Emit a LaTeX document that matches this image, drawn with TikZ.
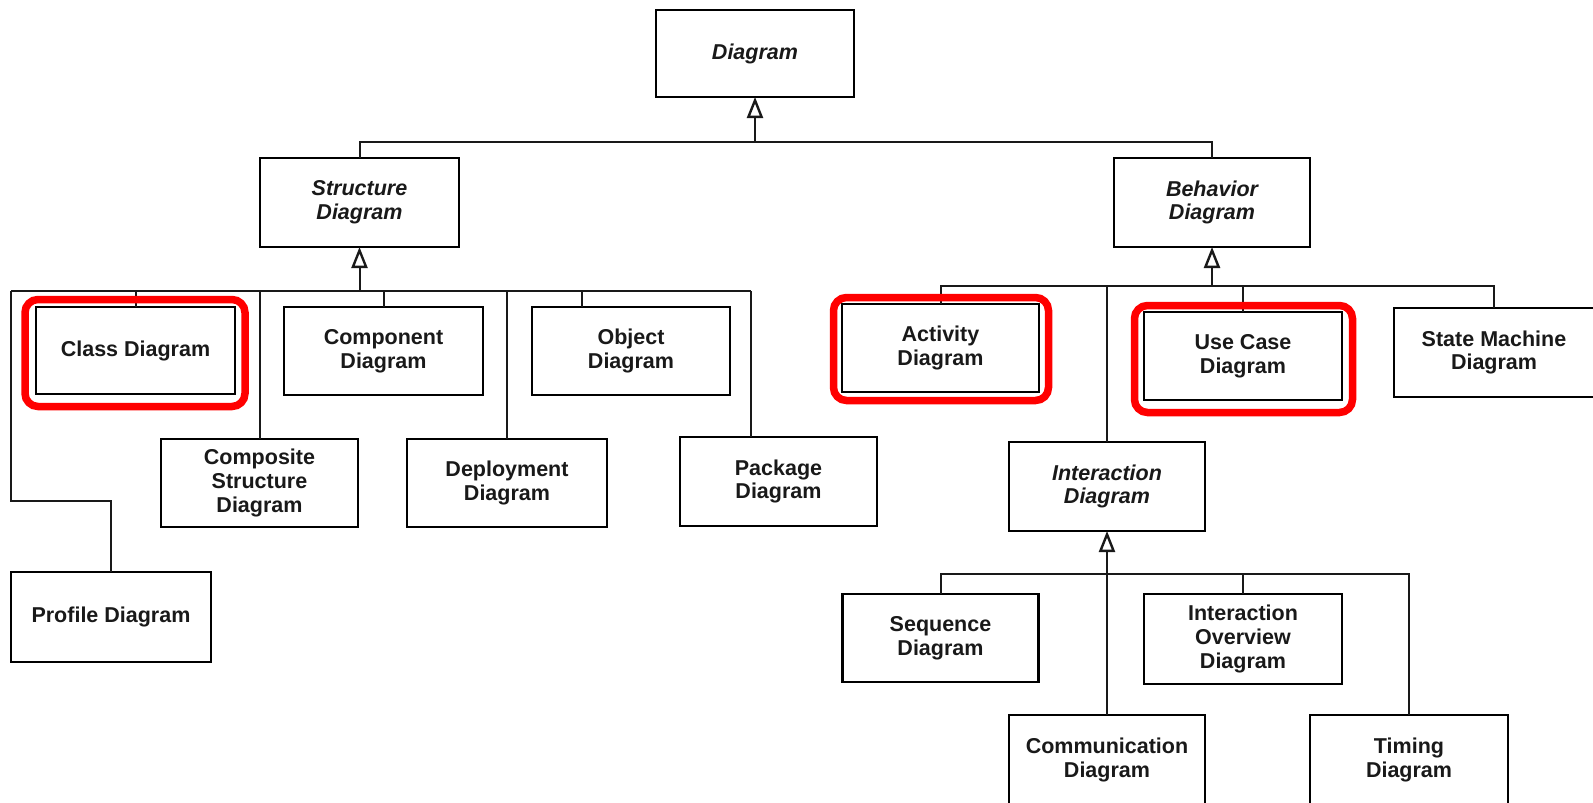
\documentclass[tikz,border=0pt]{standalone}
\usepackage{fontspec}
\setmainfont{Liberation Sans}
\usetikzlibrary{arrows.meta}
\begin{document}
\begin{tikzpicture}[x=1pt,y=-1pt,
  box/.style={draw=black, line width=2.2pt, rectangle, inner sep=0pt, outer sep=0pt, align=center,
    font=\bfseries\fontsize{21.5}{23.7}\selectfont, text=black!90},
  abs/.style={box, font=\bfseries\itshape\fontsize{21.5}{23.7}\selectfont},
  conn/.style={line width=2pt, draw=black!90},
  gen/.style={conn, -{Triangle[open, width=16pt, length=21pt, line width=2.4pt]}},
  hilite/.style={draw=red, line width=7.5pt, rounded corners=13pt}
]
\useasboundingbox (0,0) rectangle (1593,803);
\clip (0,0) rectangle (1593,803);

% nodes
\node[abs, minimum width=198pt, minimum height=87pt] (diag) at (755,53.5) {Diagram};
\node[abs, minimum width=199pt, minimum height=89pt] (struct) at (359.5,202.5) {Structure\\Diagram};
\node[abs, minimum width=196pt, minimum height=89pt] (behav) at (1212,202.5) {Behavior\\Diagram};

\node[box, minimum width=199pt, minimum height=87pt] (class) at (135.5,350.5) {Class Diagram};
\node[box, minimum width=199pt, minimum height=88pt] (comp) at (383.5,351) {Component\\Diagram};
\node[box, minimum width=198pt, minimum height=88pt] (object) at (631,351) {Object\\Diagram};
\node[box, minimum width=197pt, minimum height=88pt] (composite) at (259.5,483) {Composite\\Structure\\Diagram};
\node[box, minimum width=200pt, minimum height=88pt] (deploy) at (507,483) {Deployment\\Diagram};
\node[box, minimum width=197pt, minimum height=89pt] (package) at (778.5,481.5) {Package\\Diagram};
\node[box, minimum width=200pt, minimum height=90pt] (profile) at (111,617) {Profile Diagram};

\node[box, minimum width=197pt, minimum height=88pt] (activity) at (940.5,348) {Activity\\Diagram};
\node[box, minimum width=198pt, minimum height=88pt] (usecase) at (1243,356) {Use Case\\Diagram};
\node[box, minimum width=200pt, minimum height=89pt] (state) at (1494,352.5) {State Machine\\Diagram};
\node[abs, minimum width=196pt, minimum height=89pt] (inter) at (1107,486.5) {Interaction\\Diagram};

\node[box, minimum width=196pt, minimum height=88pt] (sequence) at (940.5,638) {Sequence\\Diagram};
\node[box, minimum width=198pt, minimum height=90pt] (overview) at (1243,639) {Interaction\\Overview\\Diagram};
\node[box, minimum width=196pt, minimum height=90pt] (comm) at (1107,760) {Communication\\Diagram};
\node[box, minimum width=198pt, minimum height=90pt] (timing) at (1409,760) {Timing\\Diagram};

% top level
\coordinate (j0) at (755,142);
\draw[conn] (struct.north) |- (j0) -| (behav.north);
\draw[gen] (j0) -- (diag.south);

% structure group
\coordinate (j1) at (359.5,290.7);
\coordinate (h1l) at (11,290.7);
\coordinate (h1r) at (751,290.7);
\coordinate (pb) at (11,501);
\draw[conn] (h1l) -- (h1r);
\draw[gen] (j1) -- (struct.south);
\draw[conn] (class.north) -- (class.north |- j1);
\draw[conn] (composite.north) -- (composite.north |- j1);
\draw[conn] (comp.north) -- (comp.north |- j1);
\draw[conn] (deploy.north) -- (deploy.north |- j1);
\draw[conn] ([xshift=-49pt]object.north) -- ([xshift=-49pt]object.north |- j1);
\draw[conn] ([xshift=-27.5pt]package.north) -- (h1r);
\draw[conn] (h1l) -- (pb) -| (profile.north);

% behavior group
\coordinate (j2) at (1212,286);
\draw[conn] (activity.north) |- (j2) -| (state.north);
\draw[gen] (j2) -- (behav.south);
\draw[conn] (inter.north) -- (inter.north |- j2);
\draw[conn] (usecase.north) -- (usecase.north |- j2);

% interaction group
\coordinate (j3) at (1107,574);
\draw[conn] (sequence.north) |- (j3) -| (timing.north);
\draw[gen] (j3) -- (inter.south);
\draw[conn] (comm.north) -- (j3);
\draw[conn] (overview.north) -- (overview.north |- j3);

% highlights
\draw[hilite] (25,299.5) rectangle (245,406.5);
\draw[hilite] (833.5,297.5) rectangle (1048.5,400.5);
\draw[hilite] (1134.5,305.5) rectangle (1352.5,412.5);
\end{tikzpicture}
\end{document}
